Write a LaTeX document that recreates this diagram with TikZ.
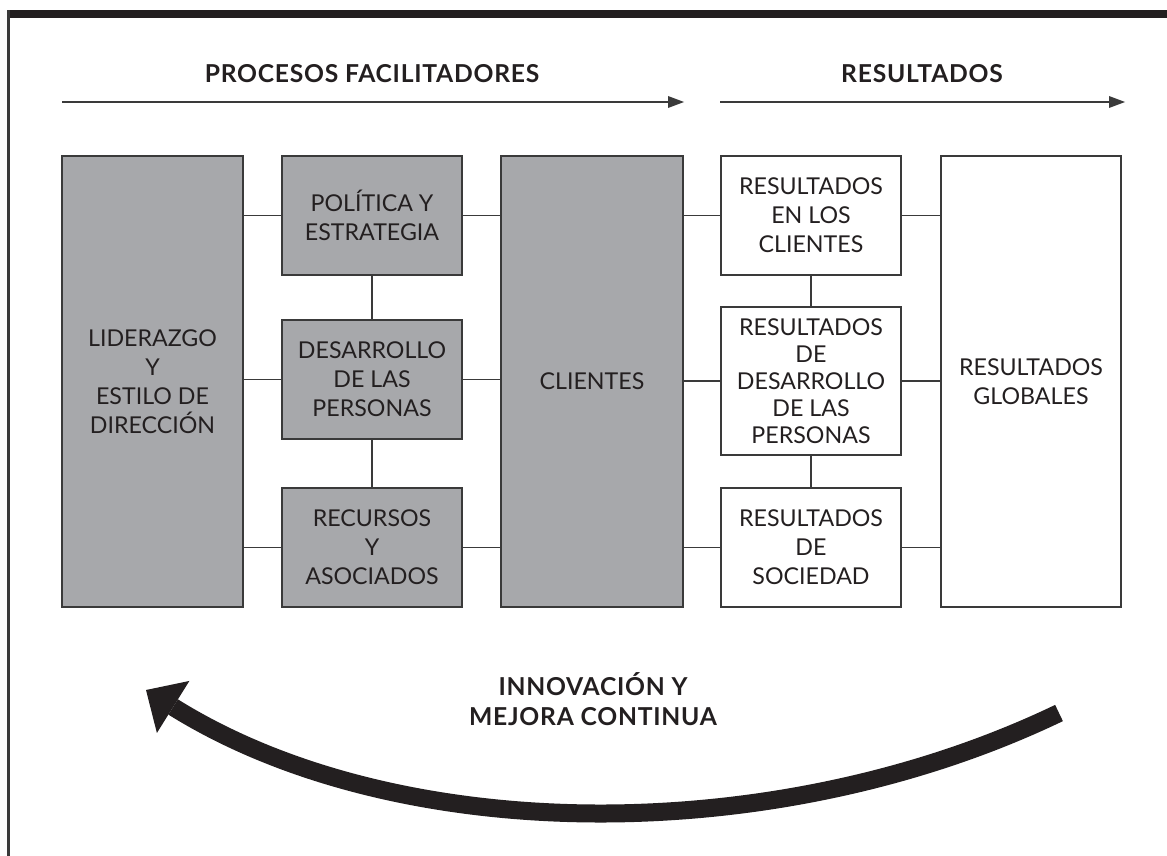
\documentclass[tikz,border=0pt]{standalone}
\usepackage{fontspec}
\setmainfont{Lato}
\newfontfamily\headfont[LetterSpace=3]{Lato Bold}
\usetikzlibrary{arrows.meta}
\definecolor{boxgray}{HTML}{A7A8AB}
\definecolor{ink}{HTML}{231F20}
\definecolor{edge}{HTML}{3A3A3A}
\begin{document}
\begin{tikzpicture}[x=0.75pt,y=-0.75pt,
  gbox/.style={draw=edge, line width=1.1pt, fill=boxgray, inner sep=0pt, align=center, text=ink,
    minimum width=135pt, font=\fontsize{17.4}{21.75}\selectfont},
  wbox/.style={gbox, fill=white},
  tall/.style={minimum height=338.25pt},
  short/.style={minimum height=89.25pt},
  link/.style={draw=edge, line width=1.2pt},
  title/.style={font=\headfont\fontsize{18.5}{22.5}\selectfont, text=ink, align=center, inner sep=0pt},
  flow/.style={draw=edge, line width=1.1pt, -{Triangle[length=12pt,width=9pt,line width=0pt]}},
  bigarrow/.style={draw=ink, line width=13.5pt, -{Triangle[length=24pt,width=46pt,line width=0pt]}}]
\useasboundingbox (0,0) rectangle (1167,856);
% frame
\fill[ink] (7,10.5) rectangle (1167,18.5);
\fill[edge] (7,10.5) rectangle (9.5,856);
% titles
\node[title] (tproc) at (372,74) {PROCESOS FACILITADORES};
\node[title] (tres) at (922,74) {RESULTADOS};
\coordinate (a1s) at (62,102);
\coordinate (a1e) at (684,102);
\coordinate (a2s) at (720,102);
\coordinate (a2e) at (1125,102);
\draw[flow] (a1s) -- (a1e);
\draw[flow] (a2s) -- (a2e);
% boxes
\node[gbox, tall, minimum width=135.75pt] (lead) at (152.5,381.5) {LIDERAZGO\\Y\\ESTILO DE\\DIRECCIÓN};
\node[gbox, short] (pol) at (372,215.5) {POLÍTICA Y\\ESTRATEGIA};
\node[gbox, short] (des) at (372,379.5) {DESARROLLO\\DE LAS\\PERSONAS};
\node[gbox, short] (rec) at (372,547.5) {RECURSOS\\Y\\ASOCIADOS};
\node[gbox, tall, minimum width=136.5pt] (cli) at (592,381.5) {CLIENTES};
\node[wbox, short] (rc) at (811,215.5) {RESULTADOS\\EN LOS\\CLIENTES};
\node[wbox, minimum height=111pt, font=\fontsize{17.4}{20.25}\selectfont] (rd) at (811,381) {RESULTADOS\\DE\\DESARROLLO\\DE LAS\\PERSONAS};
\node[wbox, short] (rs) at (811,547.5) {RESULTADOS\\DE\\SOCIEDAD};
\node[wbox, tall] (glob) at (1031,381.5) {RESULTADOS\\GLOBALES};
% connectors
\draw[link] (pol.west -| lead.east) -- (pol.west);
\draw[link] (des.west -| lead.east) -- (des.west);
\draw[link] (rec.west -| lead.east) -- (rec.west);
\draw[link] (pol.east) -- (pol.east -| cli.west);
\draw[link] (des.east) -- (des.east -| cli.west);
\draw[link] (rec.east) -- (rec.east -| cli.west);
\draw[link] (rc.west -| cli.east) -- (rc.west);
\draw[link] (rd.west -| cli.east) -- (rd.west);
\draw[link] (rs.west -| cli.east) -- (rs.west);
\draw[link] (rc.east) -- (rc.east -| glob.west);
\draw[link] (rd.east) -- (rd.east -| glob.west);
\draw[link] (rs.east) -- (rs.east -| glob.west);
\draw[link] (pol.south) -- (des.north);
\draw[link] (des.south) -- (rec.north);
\draw[link] (rc.south) -- (rd.north);
\draw[link] (rd.south) -- (rs.north);
% improvement loop
\node[title] (tinn) at (593,699) {INNOVACIÓN Y\\MEJORA CONTINUA};
\coordinate (ctail) at (1059,713);
\coordinate (chead) at (146,690);
\draw[bigarrow] (ctail) .. controls (778,848) and (399,848) .. (chead);
\end{tikzpicture}
\end{document}
